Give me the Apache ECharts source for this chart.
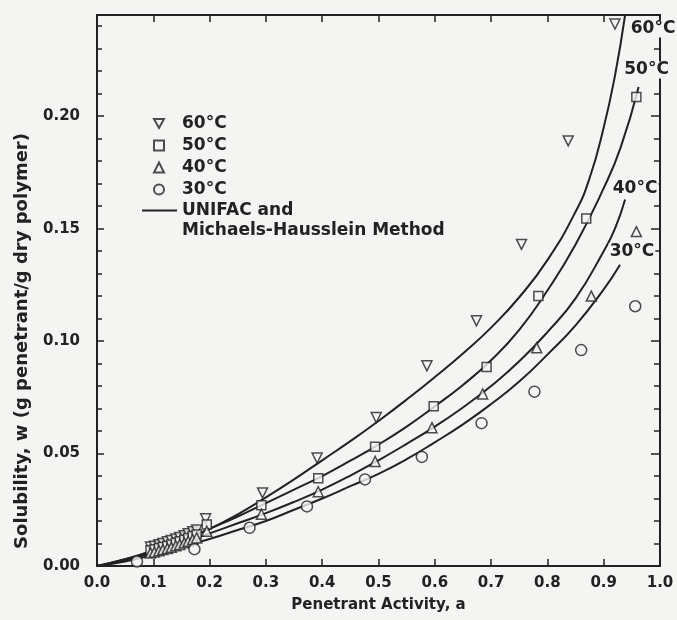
<!DOCTYPE html>
<html>
<head>
<meta charset="utf-8">
<script src="https://cdn.jsdelivr.net/npm/echarts@6/dist/echarts.min.js"></script>
<style>
  html, body { margin: 0; background: #f4f4f2; }
  #chart { width: 677px; height: 620px; }
</style>
</head>
<body>
<div id="chart"></div>
<script>
// measured points, [activity, solubility]
var pts60 = [[0.095,0.0085],[0.102,0.0088],[0.11,0.0095],[0.117,0.01],[0.125,0.0108],[0.132,0.0113],[0.14,0.012],[0.147,0.0127],
  [0.155,0.0135],[0.162,0.0143],[0.17,0.0152],[0.177,0.016],
  [0.193,0.021],[0.294,0.0325],[0.391,0.048],[0.496,0.066],[0.586,0.089],[0.674,0.109],[0.754,0.143],[0.837,0.189],[0.92,0.241]];
var pts50 = [[0.095,0.007],[0.102,0.0075],[0.11,0.008],[0.117,0.0086],[0.125,0.009],[0.132,0.0096],[0.14,0.0103],[0.147,0.011],
  [0.155,0.0117],[0.162,0.0125],[0.17,0.0133],[0.177,0.014],
  [0.195,0.0185],[0.292,0.027],[0.393,0.039],[0.494,0.053],[0.598,0.071],[0.692,0.0885],[0.784,0.12],[0.869,0.1545],[0.958,0.2085]];
var pts40 = [[0.095,0.0058],[0.102,0.0062],[0.11,0.0068],[0.117,0.0073],[0.125,0.0078],[0.132,0.0083],[0.14,0.009],[0.147,0.0096],
  [0.155,0.0103],[0.162,0.011],[0.17,0.0118],[0.177,0.0125],
  [0.195,0.0155],[0.292,0.023],[0.393,0.033],[0.494,0.0465],[0.595,0.0615],[0.685,0.0765],[0.781,0.097],[0.878,0.12],[0.958,0.1487]];
var pts30 = [[0.071,0.002],[0.173,0.0075],[0.271,0.017],[0.373,0.0265],[0.476,0.0385],[0.577,0.0485],[0.683,0.0635],
  [0.777,0.0775],[0.86,0.096],[0.956,0.1155]];

// UNIFAC / Michaels-Hausslein predictions
var fit60 = [[0,0],[0.05,0.003],[0.1,0.007],[0.15,0.0115],[0.2,0.0165],[0.25,0.023],[0.3,0.0305],[0.35,0.0385],[0.4,0.047],
  [0.45,0.0555],[0.5,0.0645],[0.55,0.074],[0.6,0.084],[0.65,0.0945],[0.7,0.106],[0.75,0.1195],[0.8,0.136],[0.85,0.1575],
  [0.875,0.1725],[0.9,0.195],[0.92,0.218],[0.938,0.245]];
var fit50 = [[0,0],[0.05,0.003],[0.1,0.0065],[0.15,0.011],[0.2,0.0165],[0.25,0.022],[0.3,0.028],[0.35,0.034],[0.4,0.04],
  [0.45,0.0468],[0.5,0.054],[0.55,0.062],[0.6,0.071],[0.65,0.0805],[0.7,0.0915],[0.75,0.105],[0.8,0.1225],[0.85,0.143],
  [0.9,0.168],[0.93,0.186],[0.962,0.213]];
var fit40 = [[0,0],[0.05,0.0025],[0.1,0.006],[0.15,0.01],[0.2,0.0145],[0.25,0.019],[0.3,0.0235],[0.35,0.0285],[0.4,0.034],
  [0.45,0.0402],[0.5,0.047],[0.55,0.0543],[0.6,0.062],[0.65,0.0705],[0.7,0.08],[0.75,0.091],[0.8,0.104],[0.85,0.119],
  [0.9,0.14],[0.92,0.15],[0.938,0.163]];
var fit30 = [[0,0],[0.05,0.002],[0.1,0.005],[0.15,0.0085],[0.2,0.012],[0.25,0.016],[0.3,0.02],[0.35,0.025],[0.4,0.03],
  [0.45,0.0355],[0.5,0.041],[0.55,0.0475],[0.6,0.055],[0.65,0.063],[0.7,0.072],[0.75,0.082],[0.8,0.094],[0.85,0.107],
  [0.9,0.123],[0.929,0.134]];

var names = ['60°C', '50°C', '40°C', '30°C'];
var fitName = 'UNIFAC and';

var ink = '#222',
    bg = '#f4f4f2',
    font = 'DejaVu Sans';

var chart = echarts.init(document.getElementById('chart'));

function curve(data, label, offset) {
    return {
        type: 'line', data: data, smooth: 0.5, symbol: 'none', silent: true,
        lineStyle: { color: ink, width: 2 },
        markPoint: {
            symbol: 'circle', symbolSize: 0, silent: true,
            data: [{ coord: data[data.length - 1] }],
            label: {
                show: true, position: 'inside', offset: offset, formatter: label,
                color: ink, fontFamily: font, fontWeight: 'bold', fontSize: 17,
                backgroundColor: bg, padding: [0, 1]
            }
        }
    };
}

function points(name, data, symbol, size, rotate) {
    return {
        type: 'scatter', name: name, data: data, symbol: symbol, symbolSize: size,
        symbolRotate: rotate || 0, z: 5,
        itemStyle: { color: bg, borderColor: ink, borderWidth: 1.5 }
    };
}

function frameAxis(pos, extra) {
    return Object.assign({
        type: 'value', position: pos,
        axisLine: { show: true, onZero: false, lineStyle: { color: ink, width: 2 } },
        axisTick: { show: true, inside: true, length: 7, lineStyle: { color: ink, width: 1.5 } },
        splitLine: { show: false }
    }, extra);
}

var labelStyle = { color: ink, fontFamily: font, fontWeight: 'bold', fontSize: 15 };
var legendText = { color: ink, fontFamily: font, fontWeight: 'bold', fontSize: 17, lineHeight: 17 };

chart.setOption({
    backgroundColor: bg,
    animation: false,
    grid: { left: 97, right: 17, top: 15, bottom: 54 },
    legend: [{
        data: [
            { name: names[0], icon: 'path://M0,0 L10,0 L5,9 Z' },
            { name: names[1] }, { name: names[2] }, { name: names[3] }
        ],
        orient: 'vertical', left: 153, top: 115, padding: 0,
        itemWidth: 10, itemHeight: 10, itemGap: 5,
        selectedMode: false,
        textStyle: Object.assign({ padding: [0, 0, 0, 13] }, legendText)
    }, {
        data: [fitName],
        left: 142, top: 202, padding: 0,
        icon: 'rect', itemWidth: 35, itemHeight: 2,
        itemStyle: { color: ink },
        selectedMode: false,
        textStyle: legendText
    }],
    graphic: [{
        type: 'text', left: 182, top: 222,
        style: { text: 'Michaels-Hausslein Method', fill: ink, font: 'bold 17px "DejaVu Sans"' }
    }, {
        type: 'text', x: 22, y: 341, rotation: Math.PI / 2,
        style: {
            text: 'Solubility, w (g penetrant/g dry polymer)', fill: ink,
            font: 'bold 18px "DejaVu Sans"', align: 'center', verticalAlign: 'middle'
        }
    }],
    xAxis: [
        frameAxis('bottom', {
            min: 0, max: 1, interval: 0.1,
            axisLabel: Object.assign({ margin: 10, formatter: function (v) { return v.toFixed(1); } }, labelStyle),
            name: 'Penetrant Activity, a', nameLocation: 'middle', nameGap: 32,
            nameTextStyle: { color: ink, fontFamily: font, fontWeight: 'bold', fontSize: 15 }
        }),
        frameAxis('top', { min: 0, max: 1, interval: 0.1, axisLabel: { show: false } })
    ],
    yAxis: [
        frameAxis('left', {
            min: 0, max: 0.245, interval: 0.05,
            minorTick: { show: true, splitNumber: 5, length: 5, lineStyle: { color: ink, width: 1.5 } },
            axisLabel: Object.assign({ margin: 17, showMaxLabel: false, formatter: function (v) { return v.toFixed(2); } }, labelStyle)
        }),
        frameAxis('right', {
            min: 0, max: 0.245, interval: 0.05,
            axisTick: { show: true, inside: true, length: 9, lineStyle: { color: ink, width: 1.5 } },
            minorTick: { show: true, splitNumber: 5, length: 6, lineStyle: { color: ink, width: 1.5 } },
            axisLabel: { show: false }
        })
    ],
    series: [
        curve(fit60, names[0], [28, 14]),
        curve(fit50, names[1], [8, -17]),
        curve(fit40, names[2], [10, -11]),
        curve(fit30, names[3], [12, -13]),
        { type: 'line', name: fitName, data: [], symbol: 'none', lineStyle: { color: ink, width: 2 } },
        points(names[0], pts60, 'triangle', 10, 180),
        points(names[1], pts50, 'rect', 9),
        points(names[2], pts40, 'triangle', 10),
        points(names[3], pts30, 'circle', 11)
    ]
});
</script>
</body>
</html>
